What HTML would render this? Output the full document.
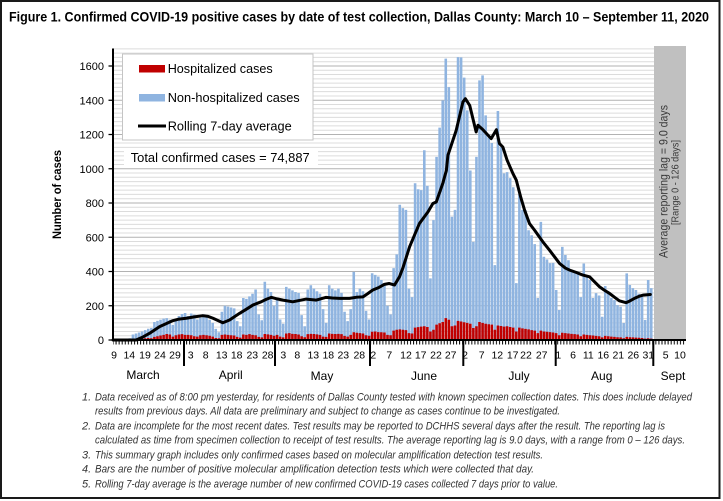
<!DOCTYPE html>
<html><head><meta charset="utf-8"><title>Figure 1 Dallas County COVID-19</title>
<style>html,body{margin:0;padding:0;background:#fff}svg{display:block}</style></head>
<body>
<svg xmlns="http://www.w3.org/2000/svg" width="723" height="501" viewBox="0 0 723 501" font-family="'Liberation Sans', Arial, sans-serif">
<defs>
<pattern id="tk" patternUnits="userSpaceOnUse" x="112.5" y="340" width="3.067" height="6"><rect x="0" y="0" width="1" height="6" fill="#000"/></pattern>
</defs>
<rect width="723" height="501" fill="#fff"/>
<rect x="1" y="1" width="718.5" height="497" fill="none" stroke="#1a1a1a" stroke-width="2"/>

<text x="9" y="21.7" font-size="13.5" font-weight="bold" fill="#000" textLength="700" lengthAdjust="spacingAndGlyphs">Figure 1. Confirmed COVID-19 positive cases by date of test collection, Dallas County: March 10 – September 11, 2020</text>

<!-- gridlines -->
<g transform="translate(0,340) scale(1,-0.17125)">
<path fill="none" stroke="#dcdcdc" stroke-width="1" vector-effect="non-scaling-stroke" d="M113 25H686M113 50H686M113 75H686M113 100H686M113 125H686M113 150H686M113 175H686M113 225H686M113 250H686M113 275H686M113 300H686M113 325H686M113 350H686M113 375H686M113 425H686M113 450H686M113 475H686M113 500H686M113 525H686M113 550H686M113 575H686M113 625H686M113 650H686M113 675H686M113 700H686M113 725H686M113 750H686M113 775H686M113 825H686M113 850H686M113 875H686M113 900H686M113 925H686M113 950H686M113 975H686M113 1025H686M113 1050H686M113 1075H686M113 1100H686M113 1125H686M113 1150H686M113 1175H686M113 1225H686M113 1250H686M113 1275H686M113 1300H686M113 1325H686M113 1350H686M113 1375H686M113 1425H686M113 1450H686M113 1475H686M113 1500H686M113 1525H686M113 1550H686M113 1575H686M113 1625H686M113 1650H686M113 1675H686M113 1700H686"/>
<path fill="none" stroke="#b2b2b2" stroke-width="1" vector-effect="non-scaling-stroke" d="M113 200H686M113 400H686M113 600H686M113 800H686M113 1000H686M113 1200H686M113 1400H686M113 1600H686"/>
</g>

<!-- gray lag band -->
<rect x="654" y="46" width="32" height="294" fill="#c0c0c0"/>
<text transform="translate(663.3,181.5) rotate(-90)" text-anchor="middle" y="4.2" font-size="12" fill="#3a3a3a" textLength="153" lengthAdjust="spacingAndGlyphs">Average reporting lag = 9.0 days</text>
<text transform="translate(675,182.5) rotate(-90)" text-anchor="middle" y="3.5" font-size="10" fill="#3a3a3a" textLength="85" lengthAdjust="spacingAndGlyphs">[Range 0 - 126 days]</text>

<!-- bars -->
<g transform="translate(88.71,340) scale(3.067,-0.17125)">
<path fill="#8fb4e0" d="M8 0h.84v1h-.84zM9 0h.84v1h-.84zM10 0h.84v2h-.84zM11 0h.84v3h-.84zM12 0h.84v5h-.84zM13 0h.84v10h-.84zM14 0h.84v32h-.84zM15 0h.84v38h-.84zM16 0h.84v44h-.84zM17 0h.84v50h-.84zM18 0h.84v58h-.84zM19 0h.84v66h-.84zM20 0h.84v70h-.84zM21 0h.84v105h-.84zM22 0h.84v112h-.84zM23 0h.84v118h-.84zM24 0h.84v125h-.84zM25 0h.84v128h-.84zM26 0h.84v118h-.84zM27 0h.84v88h-.84zM28 0h.84v120h-.84zM29 0h.84v140h-.84zM30 0h.84v152h-.84zM31 0h.84v158h-.84zM32 0h.84v140h-.84zM33 0h.84v155h-.84zM34 0h.84v148h-.84zM35 0h.84v120h-.84zM36 0h.84v130h-.84zM37 0h.84v150h-.84zM38 0h.84v140h-.84zM39 0h.84v118h-.84zM40 0h.84v100h-.84zM41 0h.84v65h-.84zM42 0h.84v45h-.84zM43 0h.84v165h-.84zM44 0h.84v200h-.84zM45 0h.84v195h-.84zM46 0h.84v190h-.84zM47 0h.84v185h-.84zM48 0h.84v110h-.84zM49 0h.84v80h-.84zM50 0h.84v245h-.84zM51 0h.84v240h-.84zM52 0h.84v255h-.84zM53 0h.84v270h-.84zM54 0h.84v295h-.84zM55 0h.84v150h-.84zM56 0h.84v115h-.84zM57 0h.84v340h-.84zM58 0h.84v300h-.84zM59 0h.84v280h-.84zM60 0h.84v200h-.84zM61 0h.84v240h-.84zM62 0h.84v120h-.84zM63 0h.84v95h-.84zM64 0h.84v310h-.84zM65 0h.84v300h-.84zM66 0h.84v290h-.84zM67 0h.84v280h-.84zM68 0h.84v275h-.84zM69 0h.84v145h-.84zM70 0h.84v80h-.84zM71 0h.84v295h-.84zM72 0h.84v320h-.84zM73 0h.84v300h-.84zM74 0h.84v285h-.84zM75 0h.84v270h-.84zM76 0h.84v180h-.84zM77 0h.84v100h-.84zM78 0h.84v320h-.84zM79 0h.84v300h-.84zM80 0h.84v290h-.84zM81 0h.84v300h-.84zM82 0h.84v275h-.84zM83 0h.84v165h-.84zM84 0h.84v110h-.84zM85 0h.84v180h-.84zM86 0h.84v398h-.84zM87 0h.84v280h-.84zM88 0h.84v300h-.84zM89 0h.84v285h-.84zM90 0h.84v170h-.84zM91 0h.84v120h-.84zM92 0h.84v390h-.84zM93 0h.84v380h-.84zM94 0h.84v370h-.84zM95 0h.84v350h-.84zM96 0h.84v330h-.84zM97 0h.84v200h-.84zM98 0h.84v150h-.84zM99 0h.84v420h-.84zM100 0h.84v500h-.84zM101 0h.84v790h-.84zM102 0h.84v770h-.84zM103 0h.84v760h-.84zM104 0h.84v300h-.84zM105 0h.84v250h-.84zM106 0h.84v915h-.84zM107 0h.84v880h-.84zM108 0h.84v875h-.84zM109 0h.84v1108h-.84zM110 0h.84v900h-.84zM111 0h.84v360h-.84zM112 0h.84v700h-.84zM113 0h.84v1069h-.84zM114 0h.84v1240h-.84zM115 0h.84v1399h-.84zM116 0h.84v1643h-.84zM117 0h.84v1477h-.84zM118 0h.84v720h-.84zM119 0h.84v760h-.84zM120 0h.84v1652h-.84zM121 0h.84v1650h-.84zM122 0h.84v1532h-.84zM123 0h.84v1341h-.84zM124 0h.84v990h-.84zM125 0h.84v573h-.84zM126 0h.84v1069h-.84zM127 0h.84v1516h-.84zM128 0h.84v1545h-.84zM129 0h.84v1312h-.84zM130 0h.84v1185h-.84zM131 0h.84v1150h-.84zM132 0h.84v437h-.84zM133 0h.84v1337h-.84zM134 0h.84v1127h-.84zM135 0h.84v973h-.84zM136 0h.84v980h-.84zM137 0h.84v945h-.84zM138 0h.84v892h-.84zM139 0h.84v332h-.84zM140 0h.84v850h-.84zM141 0h.84v760h-.84zM142 0h.84v758h-.84zM143 0h.84v641h-.84zM144 0h.84v612h-.84zM145 0h.84v560h-.84zM146 0h.84v245h-.84zM147 0h.84v690h-.84zM148 0h.84v486h-.84zM149 0h.84v470h-.84zM150 0h.84v449h-.84zM151 0h.84v450h-.84zM152 0h.84v292h-.84zM153 0h.84v175h-.84zM154 0h.84v544h-.84zM155 0h.84v496h-.84zM156 0h.84v466h-.84zM157 0h.84v408h-.84zM158 0h.84v400h-.84zM159 0h.84v390h-.84zM160 0h.84v250h-.84zM161 0h.84v447h-.84zM162 0h.84v379h-.84zM163 0h.84v350h-.84zM164 0h.84v245h-.84zM165 0h.84v274h-.84zM166 0h.84v260h-.84zM167 0h.84v136h-.84zM168 0h.84v315h-.84zM169 0h.84v274h-.84zM170 0h.84v245h-.84zM171 0h.84v233h-.84zM172 0h.84v204h-.84zM173 0h.84v194h-.84zM174 0h.84v99h-.84zM175 0h.84v389h-.84zM176 0h.84v321h-.84zM177 0h.84v303h-.84zM178 0h.84v292h-.84zM179 0h.84v270h-.84zM180 0h.84v251h-.84zM181 0h.84v117h-.84zM182 0h.84v350h-.84zM183 0h.84v303h-.84z"/>
<path fill="#c00000" d="M11 0h.84v1h-.84zM12 0h.84v1h-.84zM13 0h.84v2h-.84zM14 0h.84v3h-.84zM15 0h.84v5h-.84zM16 0h.84v6h-.84zM17 0h.84v8h-.84zM18 0h.84v10h-.84zM19 0h.84v12h-.84zM20 0h.84v10h-.84zM21 0h.84v18h-.84zM22 0h.84v22h-.84zM23 0h.84v26h-.84zM24 0h.84v30h-.84zM25 0h.84v35h-.84zM26 0h.84v32h-.84zM27 0h.84v20h-.84zM28 0h.84v28h-.84zM29 0h.84v32h-.84zM30 0h.84v34h-.84zM31 0h.84v30h-.84zM32 0h.84v30h-.84zM33 0h.84v28h-.84zM34 0h.84v22h-.84zM35 0h.84v20h-.84zM36 0h.84v28h-.84zM37 0h.84v30h-.84zM38 0h.84v28h-.84zM39 0h.84v25h-.84zM40 0h.84v20h-.84zM41 0h.84v12h-.84zM42 0h.84v10h-.84zM43 0h.84v30h-.84zM44 0h.84v32h-.84zM45 0h.84v30h-.84zM46 0h.84v28h-.84zM47 0h.84v26h-.84zM48 0h.84v18h-.84zM49 0h.84v14h-.84zM50 0h.84v32h-.84zM51 0h.84v30h-.84zM52 0h.84v34h-.84zM53 0h.84v30h-.84zM54 0h.84v28h-.84zM55 0h.84v18h-.84zM56 0h.84v15h-.84zM57 0h.84v35h-.84zM58 0h.84v33h-.84zM59 0h.84v30h-.84zM60 0h.84v25h-.84zM61 0h.84v30h-.84zM62 0h.84v20h-.84zM63 0h.84v15h-.84zM64 0h.84v38h-.84zM65 0h.84v40h-.84zM66 0h.84v36h-.84zM67 0h.84v35h-.84zM68 0h.84v32h-.84zM69 0h.84v22h-.84zM70 0h.84v16h-.84zM71 0h.84v34h-.84zM72 0h.84v36h-.84zM73 0h.84v35h-.84zM74 0h.84v33h-.84zM75 0h.84v30h-.84zM76 0h.84v20h-.84zM77 0h.84v18h-.84zM78 0h.84v38h-.84zM79 0h.84v36h-.84zM80 0h.84v35h-.84zM81 0h.84v36h-.84zM82 0h.84v34h-.84zM83 0h.84v24h-.84zM84 0h.84v20h-.84zM85 0h.84v30h-.84zM86 0h.84v45h-.84zM87 0h.84v42h-.84zM88 0h.84v40h-.84zM89 0h.84v38h-.84zM90 0h.84v28h-.84zM91 0h.84v25h-.84zM92 0h.84v48h-.84zM93 0h.84v50h-.84zM94 0h.84v46h-.84zM95 0h.84v45h-.84zM96 0h.84v44h-.84zM97 0h.84v30h-.84zM98 0h.84v28h-.84zM99 0h.84v55h-.84zM100 0h.84v60h-.84zM101 0h.84v62h-.84zM102 0h.84v60h-.84zM103 0h.84v58h-.84zM104 0h.84v40h-.84zM105 0h.84v38h-.84zM106 0h.84v72h-.84zM107 0h.84v75h-.84zM108 0h.84v78h-.84zM109 0h.84v80h-.84zM110 0h.84v76h-.84zM111 0h.84v50h-.84zM112 0h.84v60h-.84zM113 0h.84v90h-.84zM114 0h.84v98h-.84zM115 0h.84v105h-.84zM116 0h.84v128h-.84zM117 0h.84v118h-.84zM118 0h.84v80h-.84zM119 0h.84v85h-.84zM120 0h.84v112h-.84zM121 0h.84v108h-.84zM122 0h.84v104h-.84zM123 0h.84v100h-.84zM124 0h.84v95h-.84zM125 0h.84v70h-.84zM126 0h.84v80h-.84zM127 0h.84v105h-.84zM128 0h.84v100h-.84zM129 0h.84v95h-.84zM130 0h.84v92h-.84zM131 0h.84v90h-.84zM132 0h.84v60h-.84zM133 0h.84v85h-.84zM134 0h.84v82h-.84zM135 0h.84v78h-.84zM136 0h.84v80h-.84zM137 0h.84v76h-.84zM138 0h.84v72h-.84zM139 0h.84v50h-.84zM140 0h.84v72h-.84zM141 0h.84v68h-.84zM142 0h.84v65h-.84zM143 0h.84v62h-.84zM144 0h.84v58h-.84zM145 0h.84v55h-.84zM146 0h.84v40h-.84zM147 0h.84v55h-.84zM148 0h.84v50h-.84zM149 0h.84v48h-.84zM150 0h.84v46h-.84zM151 0h.84v44h-.84zM152 0h.84v40h-.84zM153 0h.84v28h-.84zM154 0h.84v42h-.84zM155 0h.84v40h-.84zM156 0h.84v38h-.84zM157 0h.84v36h-.84zM158 0h.84v34h-.84zM159 0h.84v32h-.84zM160 0h.84v22h-.84zM161 0h.84v32h-.84zM162 0h.84v30h-.84zM163 0h.84v28h-.84zM164 0h.84v26h-.84zM165 0h.84v24h-.84zM166 0h.84v22h-.84zM167 0h.84v15h-.84zM168 0h.84v24h-.84zM169 0h.84v22h-.84zM170 0h.84v20h-.84zM171 0h.84v18h-.84zM172 0h.84v16h-.84zM173 0h.84v15h-.84zM174 0h.84v10h-.84zM175 0h.84v18h-.84zM176 0h.84v16h-.84zM177 0h.84v15h-.84zM178 0h.84v14h-.84zM179 0h.84v13h-.84zM180 0h.84v12h-.84zM181 0h.84v8h-.84zM182 0h.84v10h-.84zM183 0h.84v8h-.84z"/>
</g>

<!-- rolling average -->
<g transform="translate(90,340) scale(3.067,-0.17125)">
<polyline fill="none" stroke="#000" stroke-width="3" stroke-linejoin="round" stroke-linecap="round" vector-effect="non-scaling-stroke" points="7.5,0 15,0 17,15 19.4,39 22.7,78 27,113 29,122 31.4,127 34,135 36.8,142 38.5,138 40.1,127 43.3,101 45.5,117 48.8,156 51,180 53.1,204 55.8,223 57.5,238 59.1,249 61,240 62.9,233 66.1,223 70.5,239 73.8,233 77,249 79,245 81.4,243 84.6,243 87,250 89,252 90.5,270 92.2,292 94,305 96,325 97.5,330 99.3,321 100.9,369 102,420 104.2,544 107.4,680 110.2,748 111.8,797 112.9,806 115,913 116.2,991 116.7,1079 119.4,1224 121.6,1390 122.4,1409 123.8,1370 125.9,1215 126.5,1254 128,1230 130.8,1176 132.5,1228 133.5,1147 134.6,1127 136,1050 137.9,972 139,933 140.5,830 141.7,758 143.3,680 145,640 146.5,602 148,565 149.8,525 151.5,485 153.1,447 155,420 156.4,408 158.5,395 160.7,379 162.9,369 164.5,340 166.1,311 167.8,290 169.4,272 171,250 172.6,229 174.8,218 176,228 177.5,243 179,255 180.3,262 182.7,266"/>
</g>

<!-- axes -->
<line x1="113" y1="48.5" x2="113" y2="341" stroke="#000" stroke-width="2"/>
<line x1="112" y1="340" x2="686" y2="340" stroke="#000" stroke-width="2"/>
<rect x="113" y="340" width="573" height="4.5" fill="url(#tk)"/>
<path stroke="#000" stroke-width="1.2" d="M108.5 340H113M108.5 305.75H113M108.5 271.5H113M108.5 237.25H113M108.5 203H113M108.5 168.75H113M108.5 134.5H113M108.5 100.25H113M108.5 66H113"/>
<path stroke="#000" stroke-width="2" d="M184 340V366M275 340V366M370 340V366M463.3 340V366M555.7 340V366M653.3 340V366"/>

<!-- y labels -->
<g font-size="11" fill="#000" text-anchor="end">
<text x="104" y="344">0</text>
<text x="104" y="309.75">200</text>
<text x="104" y="275.5">400</text>
<text x="104" y="241.25">600</text>
<text x="104" y="207">800</text>
<text x="104" y="172.75">1000</text>
<text x="104" y="138.5">1200</text>
<text x="104" y="104.25">1400</text>
<text x="104" y="70">1600</text>
</g>
<text transform="translate(57,194.5) rotate(-90)" text-anchor="middle" y="4" font-size="11.5" font-weight="bold" fill="#000" textLength="89" lengthAdjust="spacingAndGlyphs">Number of cases</text>

<!-- x labels -->
<g font-size="10.5" fill="#000" text-anchor="middle">
<text x="114" y="358.5">9</text><text x="129.3" y="358.5">14</text><text x="145" y="358.5">19</text><text x="160" y="358.5">24</text><text x="175" y="358.5">29</text>
<text x="190.7" y="358.5">3</text><text x="205.7" y="358.5">8</text><text x="221.7" y="358.5">13</text><text x="236.7" y="358.5">18</text><text x="252.3" y="358.5">23</text><text x="267.7" y="358.5">28</text>
<text x="283.3" y="358.5">3</text><text x="297.3" y="358.5">8</text><text x="313.3" y="358.5">13</text><text x="328.3" y="358.5">18</text><text x="343.3" y="358.5">23</text><text x="359.3" y="358.5">28</text>
<text x="373.3" y="358.5">2</text><text x="389.3" y="358.5">7</text><text x="406" y="358.5">12</text><text x="420.7" y="358.5">17</text><text x="436" y="358.5">22</text><text x="450.7" y="358.5">27</text>
<text x="465" y="358.5">2</text><text x="481.7" y="358.5">7</text><text x="497.3" y="358.5">12</text><text x="512.7" y="358.5">17</text><text x="526" y="358.5">22</text><text x="541.7" y="358.5">27</text>
<text x="558.3" y="358.5">1</text><text x="573" y="358.5">6</text><text x="588.3" y="358.5">11</text><text x="603.3" y="358.5">16</text><text x="618.3" y="358.5">21</text><text x="633.3" y="358.5">26</text><text x="648.3" y="358.5">31</text>
<text x="665.7" y="358.5">5</text><text x="680" y="358.5">10</text>
</g>
<g font-size="12" fill="#000" text-anchor="middle">
<text x="143" y="379">March</text>
<text x="230.7" y="379">April</text>
<text x="322" y="380">May</text>
<text x="424" y="380">June</text>
<text x="519" y="380">July</text>
<text x="601.7" y="380">Aug</text>
<text x="673" y="380">Sept</text>
</g>

<!-- legend -->
<rect x="122.5" y="54" width="190.5" height="86" fill="#fff" stroke="#c4c4c4" stroke-width="1"/>
<rect x="139" y="65" width="26" height="7.5" fill="#c00000"/>
<rect x="139" y="94" width="26" height="7.5" fill="#8fb4e0"/>
<line x1="138" y1="126" x2="166" y2="126" stroke="#000" stroke-width="3"/>
<g font-size="13" fill="#000">
<text x="167.7" y="72.8" textLength="105" lengthAdjust="spacingAndGlyphs">Hospitalized cases</text>
<text x="167.7" y="101.8" textLength="132" lengthAdjust="spacingAndGlyphs">Non-hospitalized cases</text>
<text x="167.7" y="130.5" textLength="124" lengthAdjust="spacingAndGlyphs">Rolling 7-day average</text>
</g>
<rect x="124" y="149" width="194" height="17" fill="#fff"/>
<text x="130.7" y="161.8" font-size="13" fill="#000" textLength="179" lengthAdjust="spacingAndGlyphs">Total confirmed cases = 74,887</text>

<!-- footnotes -->
<g font-size="11" font-style="italic" fill="#333">
<text x="82" y="400.5">1.</text>
<text x="95" y="400.5" textLength="597" lengthAdjust="spacingAndGlyphs">Data received as of 8:00 pm yesterday, for residents of Dallas County tested with known specimen collection dates.  This does include delayed</text>
<text x="95" y="414.3" textLength="465" lengthAdjust="spacingAndGlyphs">results from previous days. All data are preliminary and subject to change as cases continue to be investigated.</text>
<text x="82" y="429.3">2.</text>
<text x="95" y="429.3" textLength="570" lengthAdjust="spacingAndGlyphs">Data are incomplete for the most recent dates. Test results may be reported to DCHHS several days after the result. The reporting lag is</text>
<text x="95" y="443.3" textLength="590" lengthAdjust="spacingAndGlyphs">calculated as time from specimen collection to receipt of test results. The average reporting lag is 9.0 days, with a range from 0 – 126 days.</text>
<text x="82" y="458.3">3.</text>
<text x="95" y="458.3" textLength="448" lengthAdjust="spacingAndGlyphs">This summary graph includes only confirmed cases based on molecular amplification detection test results.</text>
<text x="82" y="472.7">4.</text>
<text x="95" y="472.7" textLength="439" lengthAdjust="spacingAndGlyphs">Bars are the number of positive molecular amplification detection tests which were collected that day.</text>
<text x="82" y="487.3">5.</text>
<text x="95" y="487.3" textLength="463" lengthAdjust="spacingAndGlyphs">Rolling 7-day average is the average number of new confirmed COVID-19 cases collected 7 days prior to value.</text>
</g>
</svg>
</body></html>
